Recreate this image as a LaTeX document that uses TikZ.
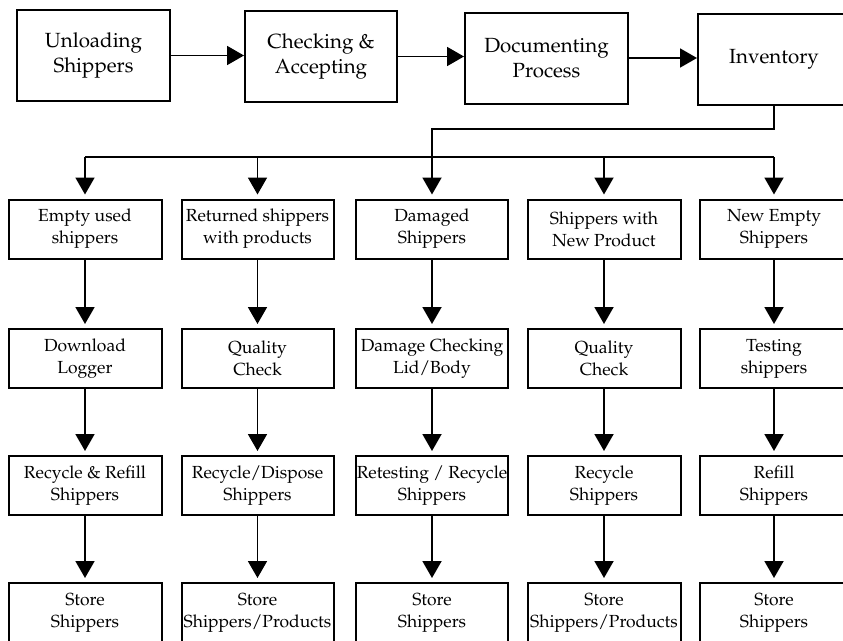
\documentclass[tikz,border=0pt]{standalone}
\usepackage[T1]{fontenc}
\usepackage{mathpazo}
\usetikzlibrary{arrows.meta}
\begin{document}
\begin{tikzpicture}[x=1pt,y=-1pt,
  box/.style={draw,line width=2pt,align=center,font=\fontsize{17.5}{22}\selectfont,
    inner sep=0pt,minimum height=59pt,minimum width=152pt},
  topbox/.style={box,minimum height=91pt,font=\fontsize{20.5}{25}\selectfont},
  conn/.style={line width=1.9pt},
  arr/.style={conn,-{Triangle[length=17pt,width=19pt]}},
  varr/.style={arr,shorten >=4pt}]
\useasboundingbox (0,0) rectangle (843,640);
\clip (0,0) rectangle (843,640);
% top row
\node[topbox,minimum width=153pt] (unl) at (93.5,55.5) {Unloading\\Shippers};
\node[topbox] (chk) at (321,56.5) {Checking \&\\Accepting};
\node[topbox,minimum width=163pt] (doc) at (546.5,58) {Documenting\\Process};
\node[topbox,minimum width=152pt] (inv) at (774,59.5) {Inventory};
\draw[arr] (unl.east) -- (unl.east -| chk.west);
\draw[arr] (chk.east) -- (chk.east -| doc.west);
\draw[arr] (doc.east) -- (doc.east -| inv.west);
% row 2
\node[box,minimum width=153pt] (a1) at (85,229) {Empty used\\shippers};
\node[box] (a2) at (257.5,229) {Returned shippers\\with products};
\node[box] (a3) at (432,229) {Damaged\\Shippers};
\node[box,minimum width=153pt] (a4) at (604,229) {Shippers with\\New Product};
\node[box,minimum width=148pt] (a5) at (774,229) {New Empty\\Shippers};
% row 3
\node[box,minimum width=153pt] (b1) at (85,358.5) {Download\\Logger};
\node[box] (b2) at (257.5,358.5) {Quality\\Check};
\node[box] (b3) at (432,358.5) {Damage Checking\\Lid/Body};
\node[box,minimum width=153pt] (b4) at (604,358.5) {Quality\\Check};
\node[box,minimum width=148pt] (b5) at (774,358.5) {Testing\\shippers};
% row 4
\node[box,minimum width=153pt] (c1) at (85,485.5) {Recycle \& Refill\\Shippers};
\node[box] (c2) at (257.5,485.5) {Recycle/Dispose\\Shippers};
\node[box] (c3) at (432,485.5) {Retesting / Recycle\\Shippers};
\node[box,minimum width=153pt] (c4) at (604,485.5) {Recycle\\Shippers};
\node[box,minimum width=148pt] (c5) at (774,485.5) {Refill\\Shippers};
% row 5
\node[box,minimum width=153pt] (s1) at (85,612.5) {Store\\Shippers};
\node[box] (s2) at (257.5,612.5) {Store\\Shippers/Products};
\node[box] (s3) at (432,612.5) {Store\\Shippers};
\node[box,minimum width=153pt] (s4) at (604,612.5) {Store\\Shippers/Products};
\node[box,minimum width=148pt] (s5) at (774,612.5) {Store\\Shippers};
% inventory branch
\coordinate (bus) at (0,157);
\draw[varr] (inv.south) -- ++(0,23) -| (a3.north);
\draw[conn] (a1.north |- bus) -- (a5.north |- bus);
\foreach \n in {a1,a2,a4,a5}{\draw[varr] (\n.north |- bus) -- (\n.north);}
% column flows
\foreach \i in {1,...,5}{
  \draw[varr] (a\i) -- (b\i);
  \draw[varr] (b\i) -- (c\i);
  \draw[varr] (c\i) -- (s\i);
}
\end{tikzpicture}
\end{document}
